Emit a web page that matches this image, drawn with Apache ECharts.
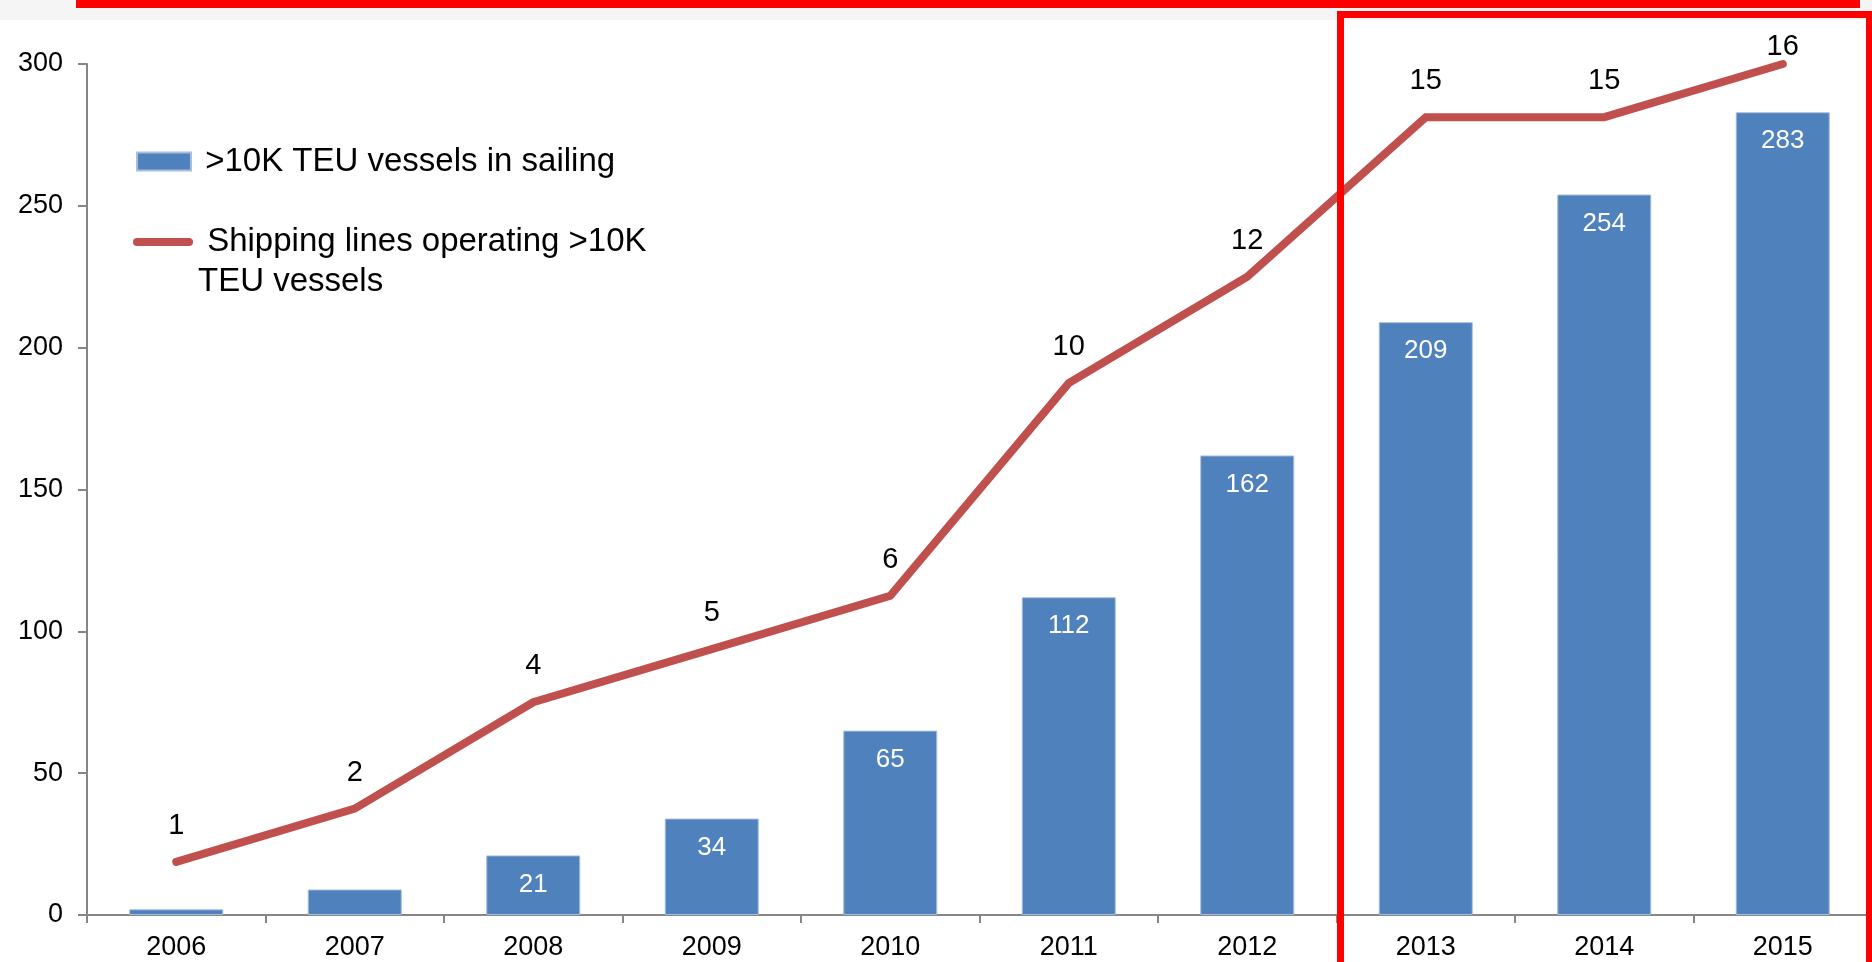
<!DOCTYPE html>
<html>
<head>
<meta charset="utf-8">
<script src="https://cdn.jsdelivr.net/npm/echarts@6/dist/echarts.min.js"></script>
<style>
html,body{margin:0;padding:0;background:#fff;}
#chart{width:1872px;height:962px;}
</style>
</head>
<body>
<div id="chart"></div>
<script>
const categories = ['2006','2007','2008','2009','2010','2011','2012','2013','2014','2015'];
const vesselsInSailing = [2, 9, 21, 34, 65, 112, 162, 209, 254, 283];
const shippingLines = [1, 2, 4, 5, 6, 10, 12, 15, 15, 16];
const leftAxisTicks = { min: 0, max: 300, interval: 50 };
const rightAxisRange = { min: 0, max: 16 };
const barName = '>10K TEU vessels in sailing';
const lineName = 'Shipping lines operating >10K TEU vessels';

const FONT = "'Liberation Sans', Arial, Helvetica, sans-serif";
const chart = echarts.init(document.getElementById('chart'));
const lastIdx = shippingLines.length - 1;

chart.setOption({
  animation: false,
  backgroundColor: '#ffffff',
  textStyle: { fontFamily: FONT },
  grid: { left: 87, top: 64, width: 1793, height: 851, containLabel: false },
  legend: [
    {
      data: [barName],
      left: 136, top: 145,
      padding: 0,
      orient: 'vertical',
      selectedMode: false,
      icon: 'rect',
      itemWidth: 54, itemHeight: 18,
      formatter: function () { return ' >10K TEU vessels in sailing'; },
      textStyle: { fontFamily: FONT, fontSize: 33, color: '#000', lineHeight: 33 }
    },
    {
      data: [lineName],
      left: 133, top: 182,
      padding: 0,
      orient: 'vertical',
      selectedMode: false,
      icon: 'path://M4,0 L56,0 A4,4 0 0 1 56,8 L4,8 A4,4 0 0 1 4,0 Z',
      itemWidth: 60, itemHeight: 8,
      formatter: function () { return ' \n Shipping lines operating >10K\nTEU vessels'; },
      textStyle: { fontFamily: FONT, fontSize: 33, color: '#000', lineHeight: 40 }
    }
  ],
  xAxis: {
    type: 'category',
    data: categories,
    boundaryGap: true,
    axisLine: { show: true, lineStyle: { color: '#868686', width: 2 } },
    axisTick: { show: true, length: 8, interval: 0, lineStyle: { color: '#868686', width: 2 } },
    axisLabel: { color: '#000', fontSize: 27, fontFamily: FONT, margin: 19, interval: 0 },
    splitLine: { show: false }
  },
  yAxis: [
    {
      type: 'value',
      min: leftAxisTicks.min, max: leftAxisTicks.max, interval: leftAxisTicks.interval,
      axisLine: { show: true, lineStyle: { color: '#868686', width: 2 } },
      axisTick: { show: true, length: 9, lineStyle: { color: '#868686', width: 2 } },
      axisLabel: { color: '#000', fontSize: 27, fontFamily: FONT, margin: 24 },
      splitLine: { show: false }
    },
    {
      type: 'value',
      min: rightAxisRange.min, max: rightAxisRange.max,
      show: false,
      splitLine: { show: false }
    }
  ],
  series: [
    {
      name: barName,
      type: 'bar',
      yAxisIndex: 0,
      barWidth: 94,
      itemStyle: { color: '#4F81BD', borderColor: '#A7BEDC', borderWidth: 1 },
      label: {
        show: true, position: 'insideTop', distance: 16,
        color: '#fff', fontSize: 26, fontFamily: FONT
      },
      data: vesselsInSailing.map(v => ({ value: v, label: { show: v >= 20 } })),
      z: 2
    },
    {
      name: lineName,
      type: 'line',
      yAxisIndex: 1,
      data: shippingLines.map((v, i) => i === lastIdx ? { value: v, label: { distance: 2 } } : v),
      showSymbol: true,
      showAllSymbol: true,
      symbol: 'circle',
      symbolSize: 1,
      itemStyle: { color: '#C0504D' },
      lineStyle: { color: '#C0504D', width: 8, cap: 'round', join: 'miter' },
      label: {
        show: true, position: 'top', distance: 21,
        color: '#000', fontSize: 29, fontFamily: FONT
      },
      z: 3
    }
  ],
  graphic: [
    { type: 'rect', left: 0, top: 0, shape: { width: 1872, height: 20 }, style: { fill: '#F5F5F5' }, z: 10, silent: true },
    { type: 'rect', left: 76, top: 0, shape: { width: 1784, height: 8 }, style: { fill: '#FF0000' }, z: 11, silent: true },
    { type: 'rect', left: 1337, top: 11, shape: { width: 535, height: 7 }, style: { fill: '#FF0000' }, z: 11, silent: true },
    { type: 'rect', left: 1337, top: 11, shape: { width: 7, height: 951 }, style: { fill: '#FF0000' }, z: 11, silent: true },
    { type: 'rect', left: 1866, top: 11, shape: { width: 6, height: 951 }, style: { fill: '#FF0000' }, z: 11, silent: true }
  ]
});
</script>
</body>
</html>
